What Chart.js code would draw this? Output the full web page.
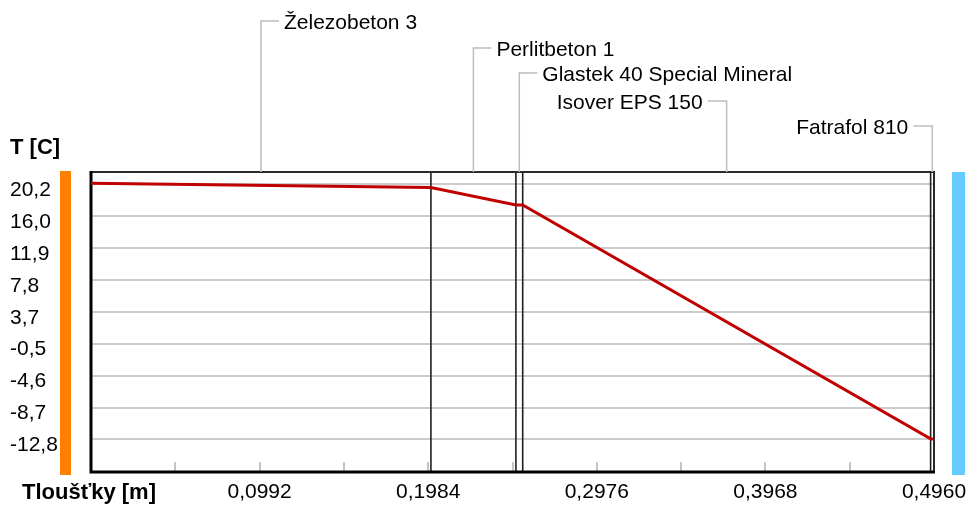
<!DOCTYPE html>
<html><head><meta charset="utf-8">
<script src="https://cdn.jsdelivr.net/npm/chart.js@4/dist/chart.umd.min.js"></script>
<style>html,body{margin:0;padding:0;background:#fff;overflow:hidden}</style>
</head><body>
<canvas id="c" width="967" height="507"></canvas>
<script>
// ---- data ----
const layerNames = ['Železobeton 3', 'Perlitbeton 1', 'Glastek 40 Special Mineral', 'Isover EPS 150', 'Fatrafol 810'];
const layerThickness = [0.200, 0.050, 0.004, 0.240, 0.002];
const profileX = [0, 0.200, 0.250, 0.254, 0.494, 0.496];
const profileT = [20.3, 19.75, 17.5, 17.5, -12.7, -12.75];
const xTickValues = [0, 0.0496, 0.0992, 0.1488, 0.1984, 0.2480, 0.2976, 0.3472, 0.3968, 0.4464, 0.4960];
const xTickLabels = ['', '', '0,0992', '', '0,1984', '', '0,2976', '', '0,3968', '', '0,4960'];
const yTickValues = [-12.8, -8.675, -4.55, -0.425, 3.7, 7.825, 11.95, 16.075, 20.2];
const yTickLabels = ['-12,8', '-8,7', '-4,6', '-0,5', '3,7', '7,8', '11,9', '16,0', '20,2'];
const yTitle = 'T [C]';
const xTitle = 'Tloušťky [m]';

const FONT = '"Liberation Sans", Arial, sans-serif';

const boundaries = [0];
layerThickness.forEach(t => boundaries.push(boundaries[boundaries.length - 1] + t));

// label placement (style)
const labelRowY = [21, 48, 73, 101, 126];
const labelSide = ['right', 'right', 'right', 'left', 'left'];

const decor = {
  id: 'decor',
  beforeDraw(chart) {
    const ctx = chart.ctx;
    ctx.save();
    ctx.fillStyle = '#fff';
    ctx.fillRect(0, 0, chart.width, chart.height);
    ctx.restore();
  },
  beforeDatasetsDraw(chart) {
    const ctx = chart.ctx, ca = chart.chartArea, xs = chart.scales.x;
    ctx.save();
    // minor tick marks inside the plot
    ctx.strokeStyle = '#C4C4C4';
    ctx.lineWidth = 2;
    xTickValues.forEach((v, i) => {
      if (i === 0 || i === xTickValues.length - 1) return;
      const px = Math.round(xs.getPixelForValue(v));
      ctx.beginPath();
      ctx.moveTo(px, ca.bottom - 10);
      ctx.lineTo(px, ca.bottom);
      ctx.stroke();
    });
    // layer boundaries
    ctx.strokeStyle = '#1E1E1E';
    ctx.lineWidth = 1.6;
    boundaries.forEach((b, i) => {
      if (i === 0 || i === boundaries.length - 1) return;
      const px = xs.getPixelForValue(b);
      ctx.beginPath();
      ctx.moveTo(px, ca.top);
      ctx.lineTo(px, ca.bottom);
      ctx.stroke();
    });
    // frame
    ctx.strokeStyle = '#2A2A2A';
    ctx.lineWidth = 2;
    ctx.beginPath();
    ctx.moveTo(ca.left, ca.top); ctx.lineTo(ca.right, ca.top); ctx.lineTo(ca.right, ca.bottom);
    ctx.stroke();
    ctx.strokeStyle = '#000';
    ctx.lineWidth = 3;
    ctx.beginPath();
    ctx.moveTo(ca.left, ca.top - 1); ctx.lineTo(ca.left, ca.bottom); ctx.lineTo(ca.right + 1, ca.bottom);
    ctx.stroke();
    ctx.restore();
  },
  afterDraw(chart) {
    const ctx = chart.ctx, ca = chart.chartArea, xs = chart.scales.x;
    ctx.save();
    // side bars (interior / exterior)
    ctx.fillStyle = '#FF8000';
    ctx.fillRect(ca.left - 31, ca.top - 1, 11, ca.bottom - ca.top + 4);
    ctx.fillStyle = '#66CCFF';
    ctx.fillRect(ca.right + 18, ca.top, 13, ca.bottom - ca.top + 3);
    // axis titles
    ctx.fillStyle = '#000';
    ctx.font = 'bold 22px ' + FONT;
    ctx.textBaseline = 'middle';
    ctx.textAlign = 'left';
    ctx.fillText(yTitle, 10, ca.top - 24);
    ctx.fillText(xTitle, 22, ca.bottom + 21);
    // layer labels
    ctx.font = '21px ' + FONT;
    layerNames.forEach((name, i) => {
      const mid = xs.getPixelForValue((boundaries[i] + boundaries[i + 1]) / 2);
      const y = labelRowY[i];
      ctx.strokeStyle = '#BDBDBD';
      ctx.lineWidth = 1.5;
      ctx.beginPath();
      ctx.moveTo(mid, ca.top);
      ctx.lineTo(mid, y);
      if (labelSide[i] === 'right') ctx.lineTo(mid + 18, y); else ctx.lineTo(mid - 19, y);
      ctx.stroke();
      ctx.fillStyle = '#000';
      ctx.textBaseline = 'middle';
      if (labelSide[i] === 'right') { ctx.textAlign = 'left'; ctx.fillText(name, mid + 23, y + 2); }
      else { ctx.textAlign = 'right'; ctx.fillText(name, mid - 24, y + 2); }
    });
    ctx.restore();
  }
};

new Chart(document.getElementById('c'), {
  type: 'line',
  data: {
    datasets: [{
      data: profileX.map((x, i) => ({ x: x, y: profileT[i] })),
      borderColor: '#C00000',
      borderWidth: 3,
      pointRadius: 0,
      tension: 0,
      fill: false
    }]
  },
  options: {
    responsive: false,
    animation: false,
    devicePixelRatio: 1,
    layout: { padding: { top: 172, left: 10, right: 33, bottom: 0 } },
    plugins: { legend: { display: false }, tooltip: { enabled: false }, title: { display: false } },
    scales: {
      x: {
        type: 'linear',
        min: 0, max: 0.496,
        afterBuildTicks: s => { s.ticks = xTickValues.map(v => ({ value: v })); },
        afterFit: s => { s.height = 35; s.paddingLeft = 0; s.paddingRight = 0; },
        grid: { display: false, drawTicks: false },
        border: { display: false },
        ticks: {
          autoSkip: false, maxRotation: 0, minRotation: 0, padding: 8,
          color: '#000',
          font: { family: FONT, size: 21 },
          callback: (v, i) => xTickLabels[i]
        }
      },
      y: {
        type: 'linear',
        min: -17.0, max: 21.75,
        afterBuildTicks: s => { s.ticks = yTickValues.map(v => ({ value: v })); },
        afterFit: s => { s.width = 81; s.paddingTop = 0; s.paddingBottom = 0; },
        grid: { color: '#CCCCCC', lineWidth: 2, drawTicks: false },
        border: { display: false },
        ticks: {
          autoSkip: false, crossAlign: 'far', labelOffset: 6, padding: 0,
          color: '#000',
          font: { family: FONT, size: 21 },
          callback: (v, i) => yTickLabels[i]
        }
      }
    }
  },
  plugins: [decor]
});
</script>
</body></html>
